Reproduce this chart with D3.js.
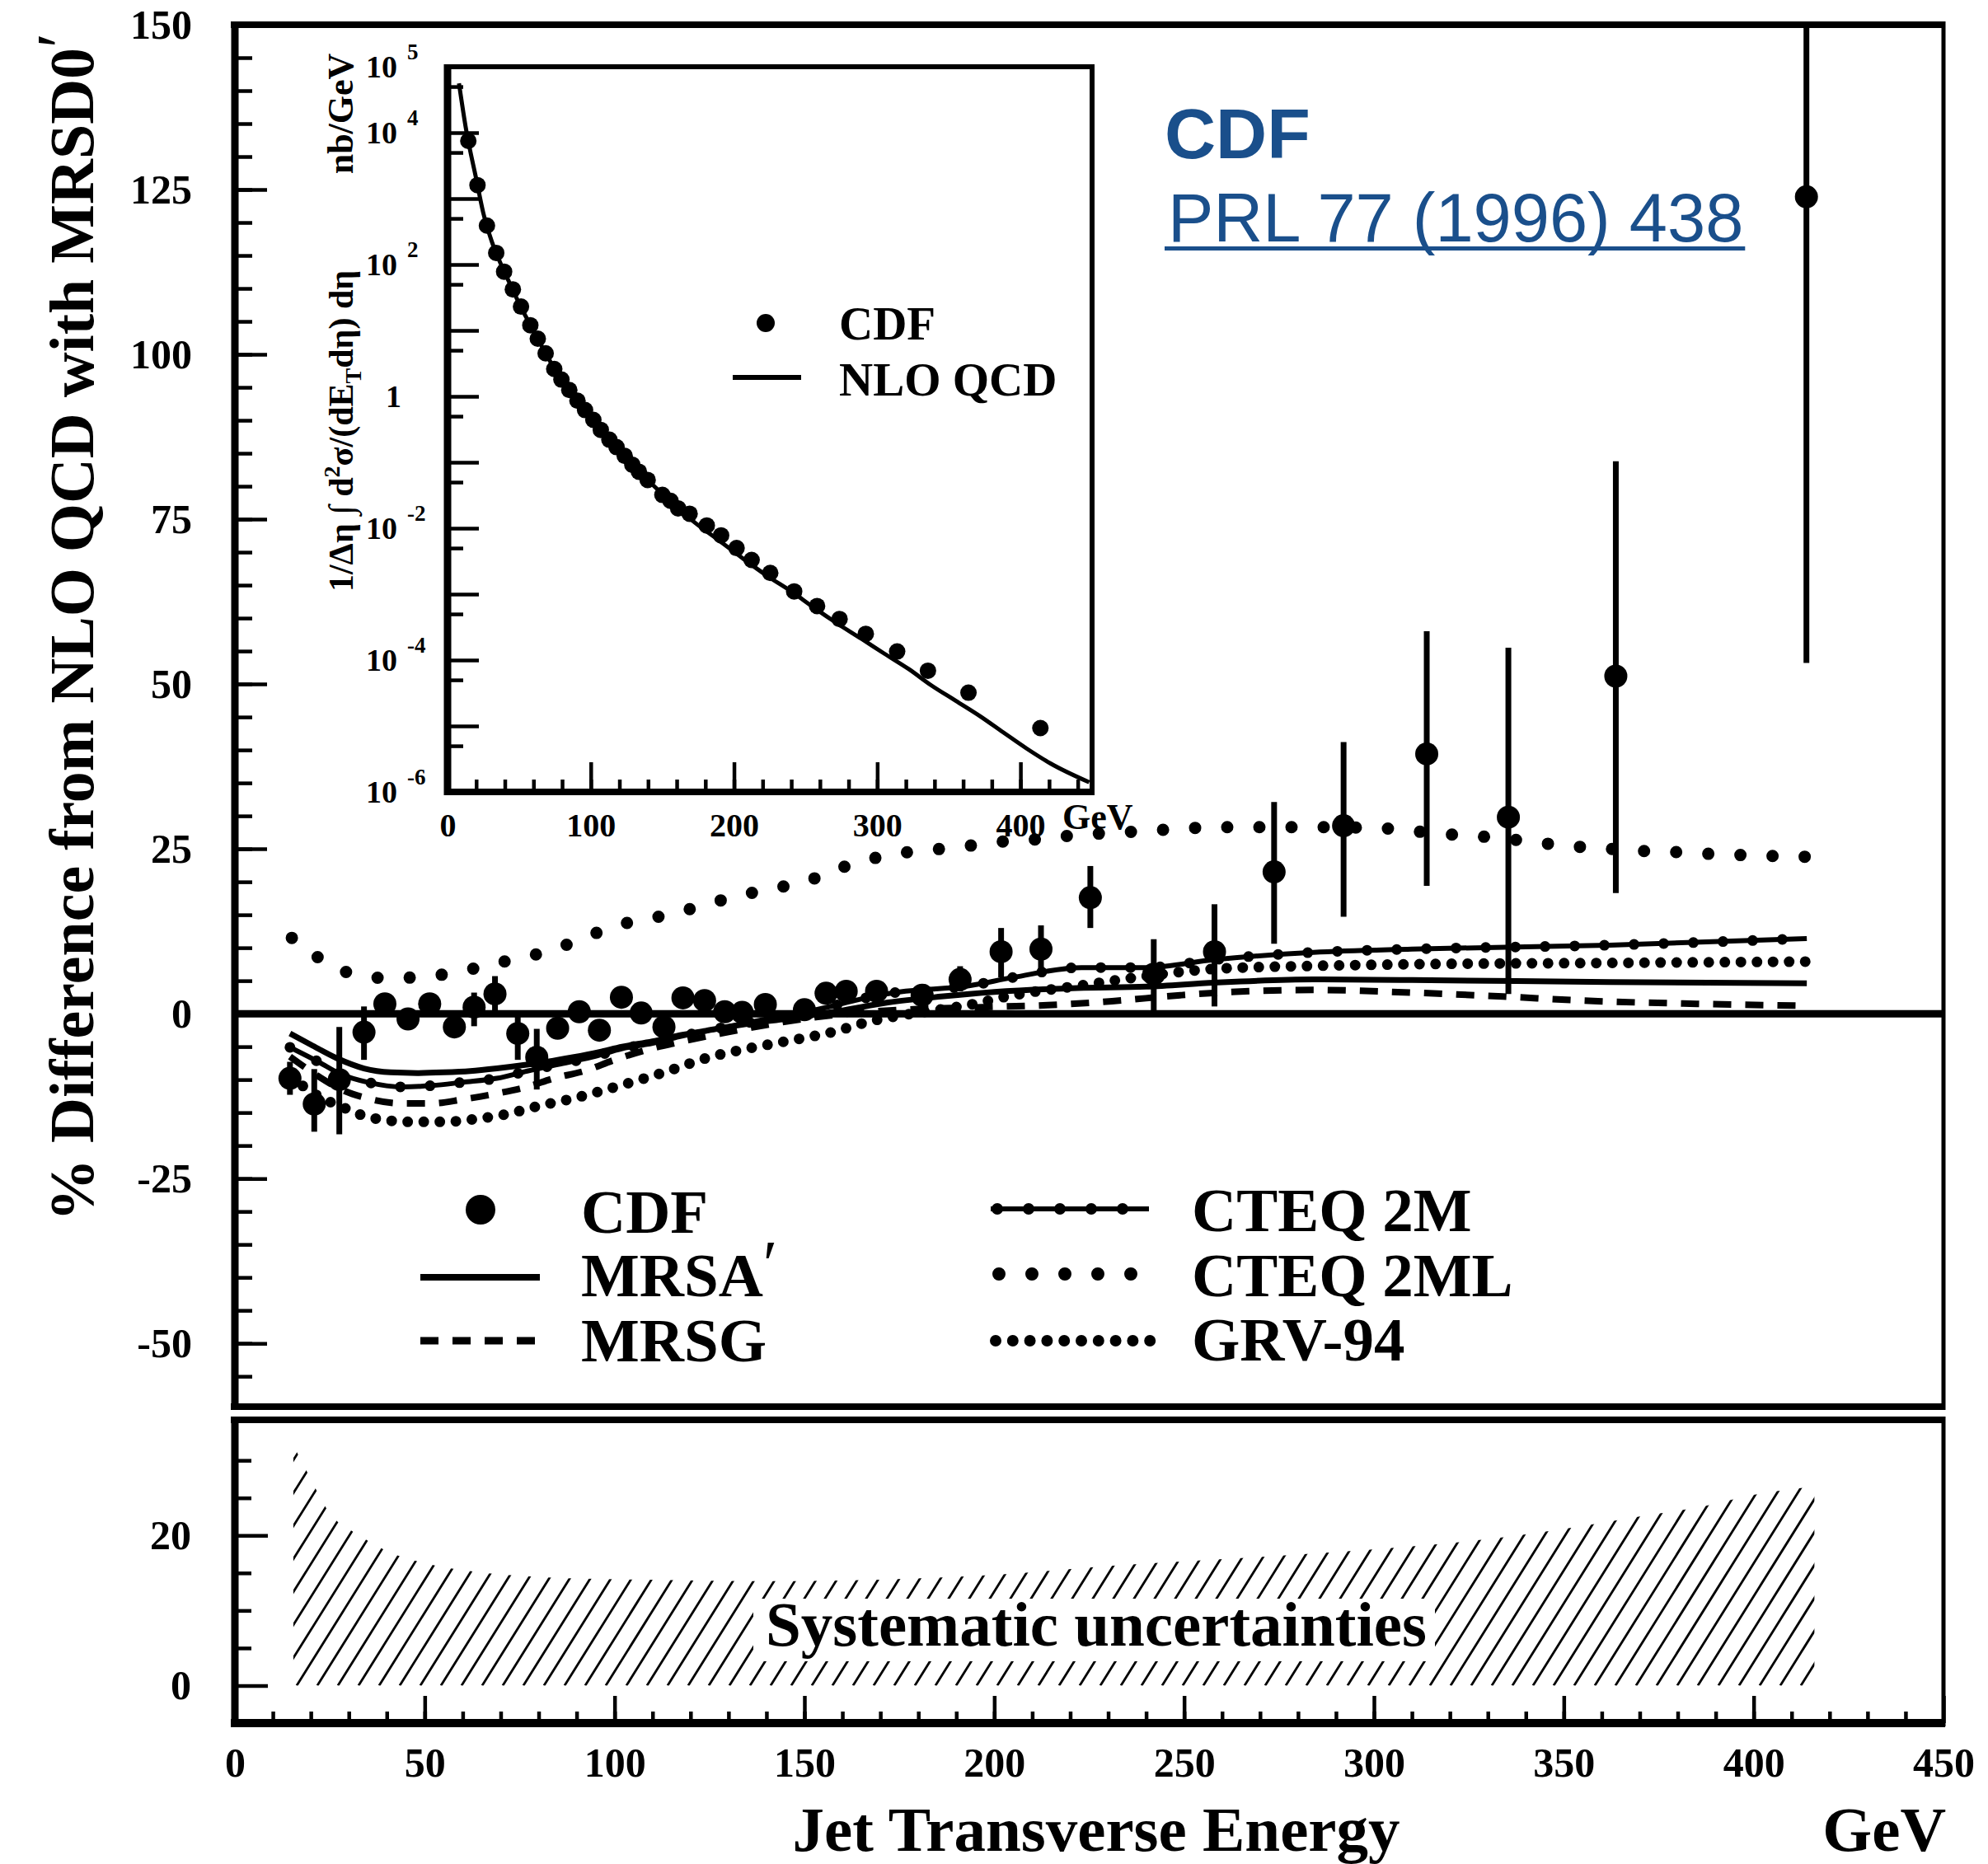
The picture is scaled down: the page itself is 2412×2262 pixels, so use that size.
<!DOCTYPE html>
<html>
<head>
<meta charset="utf-8">
<script src="https://cdn.jsdelivr.net/npm/d3@7/dist/d3.min.js"></script>
<style>
  body { margin: 0; background: #fff; }
  svg text { font-family: "Liberation Serif", "Times New Roman", serif; font-weight: bold; }
</style>
</head>
<body>
<script>
"use strict";

// ---- data ----
// CDF points: jet ET (GeV), % difference, error bar low / high
var cdfEt   = [14.5, 20.9, 27.5, 34, 39.5, 45.6, 51.3, 57.8, 63, 68.5, 74.5, 79.5, 85, 90.7, 96, 101.8, 107, 113, 118, 123.7,
               129, 133.6, 139.7, 150, 155.7, 161, 169, 181, 191, 201.8, 212.3, 225.3, 242, 258, 273.7, 292, 313.9, 335.4, 363.7, 413.9];
var cdfDiff = [-9.8, -13.7, -10, -2.8, 1.5, -0.8, 1.5, -2.0, 1.0, 3.0, -3.0, -6.6, -2.2, 0.3, -2.5, 2.5, 0.1, -2.0, 2.4, 2.0,
               0.3, 0.2, 1.4, 0.6, 3.1, 3.4, 3.4, 2.8, 5.2, 9.4, 9.8, 17.6, 6.0, 9.4, 21.5, 28.5, 39.4, 29.8, 51.2, 123.9];
var cdfLo   = [-12.3, -17.9, -18.3, -7.0, 0, -2.3, 0, -3.5, -1.9, 0.4, -7.0, -11.5, -3.7, -1.2, -4.0, 1.0, -1.4, -3.5, 0.9, 0.5,
               -1.2, -1.3, -0.1, -0.9, 1.6, 1.9, 1.9, 1.3, 3.4, 5.5, 5.8, 13.0, 0.5, 1.1, 10.6, 14.7, 19.4, 3.0, 18.3, 53.2];
var cdfHi   = [-7.3, -8.4, -2.0, 1.1, 3.0, 0.7, 3.0, -0.5, 3.2, 5.7, 0, -2.3, -0.7, 1.8, -1.0, 4.0, 1.6, -0.5, 3.9, 3.5,
               1.8, 1.7, 2.9, 2.1, 4.6, 4.9, 4.9, 4.3, 7.2, 13.0, 13.4, 22.4, 11.3, 16.6, 32.1, 41.2, 58.0, 55.5, 83.8, 160];

// theory curves, [ET, % difference]
var mrsaCurve = [[14.5,-3.0],[20,-4.7],[27,-6.8],[34,-8.3],[41,-8.9],[48,-9.0],[55,-8.9],[62,-8.7],[69,-8.3],[76,-7.8],[82,-7.3],
  [89,-6.6],[96,-5.8],[102,-5.0],[110,-4.2],[117,-3.3],[124,-2.6],[131,-1.9],[138,-1.3],[145,-0.8],[152,-0.2],[159,0.4],
  [172,1.7],[186,2.6],[200,3.3],[222,3.9],[240,4.1],[258,4.7],[284,5.2],[310,5.1],[362,4.8],[414,4.6]];
var mrsgCurve = [[14.5,-6.5],[22,-9.5],[28,-11.5],[34,-12.7],[44,-13.6],[52,-13.6],[60,-13.0],[69,-12.1],[77,-11.1],[84,-9.8],
  [92,-8.7],[100,-7.0],[109,-5.4],[118,-4.2],[128,-3.0],[140,-1.7],[152,-0.6],[165,0.2],[180,0.7],[197,1.0],[214,1.3],
  [231,1.9],[249,2.8],[266,3.4],[284,3.6],[310,3.2],[334,2.6],[359,1.9],[385,1.5],[414,1.2]];
var cteq2mCurve = [[14.5,-5.1],[22,-7.3],[28,-9.2],[35,-10.4],[44,-11.1],[52,-10.9],[60,-10.4],[69,-9.8],[77,-8.7],[85,-7.7],
  [94,-6.6],[102,-5.3],[110,-4.5],[117,-3.5],[125,-2.5],[134,-1.5],[142,-0.6],[150,0.2],[159,1.4],[167,2.5],[175,3.3],
  [193,4.2],[205,5.5],[223,7.0],[240,7.0],[258,8.2],[284,9.3],[310,9.8],[362,10.4],[414,11.4]];
var cteq2mlCurve = [[15,11.5],[22,8.5],[30,6.2],[40,5.4],[50,5.6],[60,6.5],[70,7.8],[80,9.1],[90,11.0],[100,13.3],[110,14.5],
  [120,15.9],[130,17.5],[140,18.8],[150,20.0],[160,22.2],[170,23.8],[180,24.7],[190,25.2],[200,26.0],[210,26.4],[220,27.0],
  [230,27.4],[240,27.7],[250,28.1],[260,28.3],[280,28.3],[300,28.2],[310,27.7],[320,27.2],[330,26.8],[340,26.2],[350,25.5],
  [360,25.1],[370,24.7],[380,24.5],[390,24.2],[400,24.0],[414,23.8]];
var grvCurve = [[14.5,-9.5],[22,-12.5],[29.7,-14.5],[34,-15.5],[38,-16.0],[46.5,-16.4],[55,-16.4],[63,-16.0],[71,-15.3],[80,-14.0],
  [88,-13.0],[96,-11.8],[105,-10.3],[113,-8.9],[125,-6.6],[135,-5.3],[145,-4.2],[158,-2.7],[167,-1.2],[174,-0.4],[183,0.4],
  [193,1.3],[205,2.8],[223,4.3],[240,5.7],[258,6.8],[284,7.25],[310,7.5],[362,7.7],[414,7.9]];

// systematic uncertainty band, [ET, %]
var systBand = [[15.4,32],[19.5,28],[24.5,23.3],[32.8,20],[41,17.7],[51,16.2],[62.7,15.2],[79.3,14.5],[96,14.2],[121,14.0],
  [137,13.9],[160,14.0],[198.6,14.7],[232,16],[266,17],[299,18.1],[316,18.8],[338,20],[358,21.5],[371,22.6],[387,23.9],
  [400,25.4],[416,26.5]];

// inset: cross section (nb/GeV) at the CDF ET values, and NLO QCD curve
var insetCdf = [7.5e3, 1.6e3, 3.9e2, 1.5e2, 78, 42, 23, 12, 7.5, 4.5, 2.6, 1.8, 1.25, 0.86, 0.62, 0.44, 0.31, 0.22, 0.17, 0.125,
                0.092, 0.072, 0.054, 0.032, 0.026, 0.02, 0.0166, 0.011, 0.0078, 5.0e-3, 3.3e-3, 2.1e-3, 1.1e-3, 6.6e-4, 4.2e-4,
                2.5e-4, 1.35e-4, 6.9e-5, 3.2e-5, 9.3e-6];
var insetNlo = [[8,5.6e4],[13,1.1e4],[20,2.0e3],[25,6.0e2],[31,2.2e2],[38,93],[45,44],[51,23],[58,12],[64,6.8],[71,3.6],
  [81,1.6],[91,0.85],[101,0.45],[114,0.21],[127,0.1],[140,0.053],[157,0.024],[173,0.012],[190,6.4e-3],[206,3.5e-3],
  [223,1.9e-3],[240,1.1e-3],[256,6.2e-4],[272,3.6e-4],[289,2.1e-4],[305,1.25e-4],[322,7.3e-5],[338,4.1e-5],[355,2.4e-5],
  [372,1.4e-5],[388,8.0e-6],[404,4.6e-6],[421,2.7e-6],[448,1.4e-6]];

// tick labels
var topTicks = [-50, -25, 0, 25, 50, 75, 100, 125, 150];
var botTicks = [0, 20];
var xTicks = [0, 50, 100, 150, 200, 250, 300, 350, 400, 450];
var insetXTicks = [0, 100, 200, 300, 400];
var insetYLabels = [[1e5, "10", "5"], [1e4, "10", "4"], [1e2, "10", "2"], [1, "1", ""],
                    [1e-2, "10", "-2"], [1e-4, "10", "-4"], [1e-6, "10", "-6"]];

// ---- layout ----
var W = 2412, H = 2262;
var x = d3.scaleLinear().domain([0, 450]).range([285, 2358]);
var yTop = d3.scaleLinear().domain([-59.6, 150]).range([1707, 30]);
var yBot = d3.scaleLinear().domain([-5, 35.4]).range([2091, 1723]);
var xi = d3.scaleLinear().domain([0, 450]).range([543, 1325]);
var yi = d3.scaleLog().domain([1e-6, 1e5]).range([961, 81]);

var svg = d3.select("body").append("svg")
    .attr("width", W).attr("height", H)
    .style("display", "block");
svg.append("rect").attr("width", W).attr("height", H).attr("fill", "#fff");
var defs = svg.append("defs");

function cleanAxis(g, size) {
  g.select(".domain").remove();
  g.attr("font-family", null).attr("font-size", size || null);
  g.selectAll(".tick line").attr("stroke-width", 4.5);
  g.selectAll("text").attr("fill", "#000");
}

// ---- upper panel axes ----
var gyMinor = svg.append("g").attr("transform", "translate(285,0)")
    .call(d3.axisLeft(yTop).tickValues(d3.range(-55, 150, 5)).tickSize(-21).tickFormat(""));
cleanAxis(gyMinor);
var gyMajor = svg.append("g").attr("transform", "translate(285,0)")
    .call(d3.axisLeft(yTop).tickValues(topTicks).tickSize(-39).tickPadding(52).tickFormat(function(d) { return String(d); }));
cleanAxis(gyMajor, 50);

// ---- lower panel axes ----
var gbMinor = svg.append("g").attr("transform", "translate(285,0)")
    .call(d3.axisLeft(yBot).tickValues([5, 10, 15, 25, 30]).tickSize(-20).tickFormat(""));
cleanAxis(gbMinor);
var gbMajor = svg.append("g").attr("transform", "translate(285,0)")
    .call(d3.axisLeft(yBot).tickValues(botTicks).tickSize(-40).tickPadding(53).tickFormat(function(d) { return String(d); }));
cleanAxis(gbMajor, 50);

var gxMinor = svg.append("g").attr("transform", "translate(0,2091)")
    .call(d3.axisBottom(x).tickValues(d3.range(10, 450, 10)).tickSize(-14).tickFormat(""));
cleanAxis(gxMinor);
var gxMajor = svg.append("g").attr("transform", "translate(0,2091)")
    .call(d3.axisBottom(x).tickValues(xTicks).tickSize(-33).tickPadding(29).tickFormat(function(d) { return String(d); }));
cleanAxis(gxMajor, 50);

// panel frames
function frame(top, bottom, wTop, wBottom) {
  svg.append("line").attr("x1", 280).attr("x2", 2360).attr("y1", top).attr("y2", top).attr("stroke", "#000").attr("stroke-width", wTop);
  svg.append("line").attr("x1", 280).attr("x2", 2360).attr("y1", bottom).attr("y2", bottom).attr("stroke", "#000").attr("stroke-width", wBottom);
  svg.append("line").attr("x1", 285).attr("x2", 285).attr("y1", top - 4).attr("y2", bottom + 4).attr("stroke", "#000").attr("stroke-width", 9);
  svg.append("line").attr("x1", 2358).attr("x2", 2358).attr("y1", top - 4).attr("y2", bottom + 4).attr("stroke", "#000").attr("stroke-width", 5);
}
frame(yTop(150), yTop(-59.6), 8, 8);
frame(yBot(35.4), yBot(-5), 8, 10);

// ---- systematic band (hatched) ----
var bandArea = d3.area().x(function(d) { return x(d[0]); })
    .y0(yBot(0)).y1(function(d) { return yBot(d[1]); }).curve(d3.curveMonotoneX);
defs.append("clipPath").attr("id", "bandClip").append("path").attr("d", bandArea(systBand));
var hatchRise = 1.6, hatchStep = 25;
var hy0 = yBot(0), hy1 = yBot(35);
svg.append("g").attr("clip-path", "url(#bandClip)")
  .selectAll("line").data(d3.range(x(0) - 300, x(450), hatchStep)).join("line")
    .attr("x1", function(d) { return d; }).attr("y1", hy0)
    .attr("x2", function(d) { return d + (hy0 - hy1) / hatchRise; }).attr("y2", hy1)
    .attr("stroke", "#000").attr("stroke-width", 2.8);
svg.append("rect").attr("x", 914).attr("y", 1940).attr("width", 827).attr("height", 76).attr("fill", "#fff");
svg.append("text").attr("x", 929).attr("y", 1997).attr("font-size", 77).text("Systematic uncertainties");

// ---- upper panel data ----
defs.append("clipPath").attr("id", "topClip").append("rect")
    .attr("x", x(0)).attr("y", yTop(150)).attr("width", x(450) - x(0)).attr("height", yTop(-59.6) - yTop(150));
var plot = svg.append("g").attr("clip-path", "url(#topClip)");

plot.append("line").attr("x1", x(0)).attr("x2", x(450)).attr("y1", yTop(0)).attr("y2", yTop(0))
    .attr("stroke", "#000").attr("stroke-width", 9);

var line = d3.line().x(function(d) { return x(d[0]); }).y(function(d) { return yTop(d[1]); }).curve(d3.curveMonotoneX);
var curveStyle = function(sel, w, dash) {
  sel.attr("fill", "none").attr("stroke", "#000").attr("stroke-width", w).attr("stroke-linecap", dash && dash.indexOf("0 ") === 0 ? "round" : "butt");
  if (dash) sel.attr("stroke-dasharray", dash);
};
plot.append("path").attr("d", line(mrsaCurve)).call(curveStyle, 7);
plot.append("path").attr("d", line(mrsgCurve)).call(curveStyle, 8, "22 17");
plot.append("path").attr("d", line(cteq2mCurve)).call(curveStyle, 6);
plot.append("path").attr("d", line(cteq2mCurve)).call(curveStyle, 13, "0 36");
plot.append("path").attr("d", line(cteq2mlCurve)).call(curveStyle, 15, "0 39");
plot.append("path").attr("d", line(grvCurve)).call(curveStyle, 13, "0 19.5");

var cdf = cdfEt.map(function(e, i) { return { et: e, v: cdfDiff[i], lo: cdfLo[i], hi: cdfHi[i] }; });
plot.selectAll("line.err").data(cdf).join("line").attr("class", "err")
    .attr("x1", function(d) { return x(d.et); }).attr("x2", function(d) { return x(d.et); })
    .attr("y1", function(d) { return yTop(d.lo); }).attr("y2", function(d) { return yTop(d.hi); })
    .attr("stroke", "#000").attr("stroke-width", 7);
plot.selectAll("circle.pt").data(cdf).join("circle").attr("class", "pt")
    .attr("cx", function(d) { return x(d.et); }).attr("cy", function(d) { return yTop(d.v); })
    .attr("r", 14).attr("fill", "#000");

// ---- main legend ----
var leg = svg.append("g").attr("font-size", 75);
leg.append("circle").attr("cx", 583).attr("cy", 1468).attr("r", 18).attr("fill", "#000");
leg.append("text").attr("x", 705).attr("y", 1496).text("CDF");
leg.append("line").attr("x1", 510).attr("x2", 655).attr("y1", 1550).attr("y2", 1550).call(curveStyle, 8);
var tA = leg.append("text").attr("x", 705).attr("y", 1573).text("MRSA");
tA.append("tspan").attr("font-weight", "normal").attr("font-size", 80).attr("dy", -12).text("′");
leg.append("line").attr("x1", 510).attr("x2", 649).attr("y1", 1627).attr("y2", 1627).call(curveStyle, 9, "22 17");
leg.append("text").attr("x", 705).attr("y", 1652).text("MRSG");

leg.append("line").attr("x1", 1202).attr("x2", 1394).attr("y1", 1467).attr("y2", 1467).call(curveStyle, 6);
leg.append("line").attr("x1", 1210).attr("x2", 1394).attr("y1", 1467).attr("y2", 1467).call(curveStyle, 14, "0 38");
leg.append("line").attr("x1", 1212).attr("x2", 1375).attr("y1", 1546).attr("y2", 1546).call(curveStyle, 16, "0 40");
leg.append("line").attr("x1", 1208).attr("x2", 1396).attr("y1", 1627).attr("y2", 1627).call(curveStyle, 14, "0 20.8");
leg.append("text").attr("x", 1446).attr("y", 1494).text("CTEQ 2M");
leg.append("text").attr("x", 1446).attr("y", 1573).text("CTEQ 2ML");
leg.append("text").attr("x", 1446).attr("y", 1651).text("GRV-94");

// ---- axis titles ----
var yt = svg.append("text").attr("transform", "translate(113,761) rotate(-90)")
    .attr("text-anchor", "middle").attr("font-size", 76).text("% Difference from NLO QCD with MRSD0");
yt.append("tspan").attr("font-weight", "normal").attr("font-size", 82).attr("dy", -12).text("′");
svg.append("text").attr("x", 1330).attr("y", 2246).attr("text-anchor", "middle").attr("font-size", 77).text("Jet Transverse Energy");
svg.append("text").attr("x", 2361).attr("y", 2246).attr("text-anchor", "end").attr("font-size", 77).text("GeV");

// ---- blue reference ----
var blue = "#1a4f8b";
svg.append("text").attr("x", 1413).attr("y", 192).attr("font-size", 86)
    .style("font-family", "'Liberation Sans', Arial, sans-serif").attr("fill", blue).text("CDF");
var ref = svg.append("text").attr("x", 1417).attr("y", 293).attr("font-size", 83)
    .style("font-family", "'Liberation Sans', Arial, sans-serif").style("font-weight", "normal")
    .attr("fill", blue).text("PRL 77 (1996) 438");
var refLen = ref.node().getComputedTextLength();
svg.append("rect").attr("x", 1413).attr("y", 299).attr("width", refLen + 6).attr("height", 5).attr("fill", blue);

// ---- inset ----
var inset = svg.append("g");
inset.append("rect").attr("x", xi(0)).attr("y", yi(1e5)).attr("width", xi(450) - xi(0)).attr("height", yi(1e-6) - yi(1e5))
    .attr("fill", "#fff").attr("stroke", "#000").attr("stroke-width", 6);

var decades = d3.range(-6, 6).map(function(k) { return Math.pow(10, k); });
var halves = d3.range(-6, 5).map(function(k) { return 5 * Math.pow(10, k); });
var giMaj = inset.append("g").attr("transform", "translate(" + xi(0) + ",0)")
    .call(d3.axisLeft(yi).tickValues(decades).tickSize(-38).tickFormat(""));
cleanAxis(giMaj);
var giMin = inset.append("g").attr("transform", "translate(" + xi(0) + ",0)")
    .call(d3.axisLeft(yi).tickValues(halves).tickSize(-19).tickFormat(""));
cleanAxis(giMin);
var gxiMin = inset.append("g").attr("transform", "translate(0," + yi(1e-6) + ")")
    .call(d3.axisBottom(xi).tickValues(d3.range(20, 450, 20)).tickSize(-15).tickFormat(""));
cleanAxis(gxiMin);
var gxiMaj = inset.append("g").attr("transform", "translate(0," + yi(1e-6) + ")")
    .call(d3.axisBottom(xi).tickValues(insetXTicks).tickSize(-36).tickPadding(26).tickFormat(function(d) { return String(d); }));
cleanAxis(gxiMaj, 40);
inset.append("line").attr("x1", xi(0)).attr("x2", xi(0)).attr("y1", yi(1e5) - 3).attr("y2", yi(1e-6) + 4)
    .attr("stroke", "#000").attr("stroke-width", 9);
inset.append("line").attr("x1", xi(0) - 3).attr("x2", xi(450) + 3).attr("y1", yi(1e-6)).attr("y2", yi(1e-6))
    .attr("stroke", "#000").attr("stroke-width", 8);
inset.append("text").attr("x", 1289).attr("y", 1006).attr("font-size", 44).text("GeV");

var yLab = inset.selectAll("g.ylab").data(insetYLabels).join("g").attr("class", "ylab");
yLab.append("text").attr("x", function(d) { return d[2] ? 482 : 487; })
    .attr("y", function(d) { return yi(d[0]) + 13; }).attr("text-anchor", "end").attr("font-size", 38)
    .text(function(d) { return d[1]; });
yLab.append("text").attr("x", 494).attr("y", function(d) { return yi(d[0]) - 9; }).attr("font-size", 27)
    .text(function(d) { return d[2]; });

var yTitle = inset.append("text").attr("transform", "translate(428,523) rotate(-90)")
    .attr("text-anchor", "middle").attr("font-size", 42);
yTitle.append("tspan").text("1/Δη ∫ d");
yTitle.append("tspan").attr("font-size", 28).attr("dy", -16).text("2");
yTitle.append("tspan").attr("dy", 16).text("σ/(dE");
yTitle.append("tspan").attr("font-size", 28).attr("dy", 10).text("T");
yTitle.append("tspan").attr("dy", -10).text("dη) dη");
inset.append("text").attr("transform", "translate(428,138) rotate(-90)")
    .attr("text-anchor", "middle").attr("font-size", 44).text("nb/GeV");

var iline = d3.line().x(function(d) { return xi(d[0]); }).y(function(d) { return yi(d[1]); }).curve(d3.curveMonotoneX);
inset.append("path").attr("d", iline(insetNlo)).call(curveStyle, 5);
inset.selectAll("circle.ipt").data(cdfEt.map(function(e, i) { return [e, insetCdf[i]]; })).join("circle").attr("class", "ipt")
    .attr("cx", function(d) { return xi(d[0]); }).attr("cy", function(d) { return yi(d[1]); })
    .attr("r", 10).attr("fill", "#000");

inset.append("circle").attr("cx", 929).attr("cy", 392).attr("r", 11).attr("fill", "#000");
inset.append("text").attr("x", 1018).attr("y", 412).attr("font-size", 57).text("CDF");
inset.append("line").attr("x1", 889).attr("x2", 972).attr("y1", 458).attr("y2", 458).call(curveStyle, 6);
inset.append("text").attr("x", 1018).attr("y", 480).attr("font-size", 57).text("NLO QCD");
</script>
</body>
</html>
